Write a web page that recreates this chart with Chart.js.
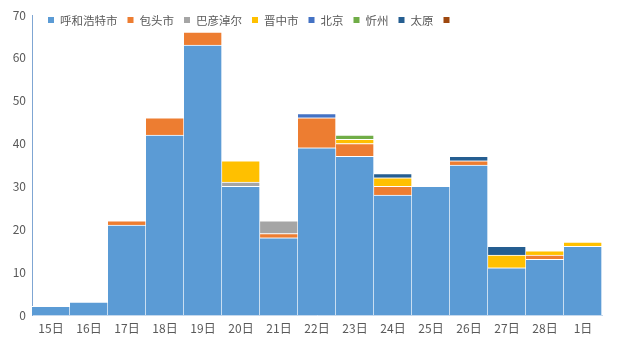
<!DOCTYPE html>
<html><head><meta charset="utf-8">
<script src="https://cdn.jsdelivr.net/npm/chart.js@4/dist/chart.umd.min.js"></script>
<style>html,body{margin:0;padding:0;background:#fff}#w{width:617px;height:357px}</style>
</head><body><div id="w"><canvas id="c"></canvas></div>
<script>
const categories = ['15日','16日','17日','18日','19日','20日','21日','22日','23日','24日','25日','26日','27日','28日','1日'];
const huhehaote = [2,3,21,42,63,30,18,39,37,28,30,35,11,13,16];
const baotou    = [null,null,1,4,3,null,1,7,3,2,null,1,null,1,null];
const bayannaoer= [null,null,null,null,null,1,3,null,null,null,null,null,null,null,null];
const jinzhong  = [null,null,null,null,null,5,null,null,1,2,null,null,3,1,1];
const beijing   = [null,null,null,null,null,null,null,1,null,null,null,null,null,null,null];
const xinzhou   = [null,null,null,null,null,null,null,null,1,null,null,null,null,null,null];
const taiyuan   = [null,null,null,null,null,null,null,null,null,1,null,1,2,null,null];
const other     = [null,null,null,null,null,null,null,null,null,null,null,null,null,null,null];
const seriesNames = ['呼和浩特市','包头市','巴彦淖尔','晋中市','北京','忻州','太原',''];
const yTicks = [0,10,20,30,40,50,60,70];

const colors = ['#5B9BD5','#ED7D31','#A5A5A5','#FFC000','#4472C4','#70AD47','#255E91','#9E480E'];
const series = [huhehaote,baotou,bayannaoer,jinzhong,beijing,xinzhou,taiyuan,other];
const fontFamily = "'Noto Sans CJK SC', sans-serif";
const font = {family:fontFamily, size:12};

const inlineLegend = {
  id:'inlineLegend',
  afterDraw(chart){
    const ctx = chart.ctx;
    ctx.save();
    ctx.font = '11.5px ' + fontFamily;
    ctx.textBaseline = 'middle';
    let x = 48; const yc = 20; const box = 6;
    chart.data.datasets.forEach(ds=>{
      ctx.fillStyle = ds.backgroundColor;
      ctx.fillRect(x, yc-box/2, box, box);
      x += box + 6;
      ctx.fillStyle = '#595959';
      ctx.fillText(ds.label, x, yc+1);
      x += ctx.measureText(ds.label).width + 10;
    });
    ctx.restore();
  }
};

new Chart(document.getElementById('c'), {
  type:'bar',
  data:{labels:categories, datasets: series.map((d,i)=>({
    label: seriesNames[i], data:d, backgroundColor:colors[i],
    borderColor:'#ffffff', borderWidth:{top:1,right:1,left:0,bottom:0}, borderSkipped:false,
    categoryPercentage:1, barPercentage:1
  }))},
  plugins:[inlineLegend],
  options:{
    responsive:true, maintainAspectRatio:false, animation:false,
    layout:{padding:{top:15,right:15,left:0,bottom:0}},
    plugins:{
      tooltip:{enabled:false},
      legend:{display:false}
    },
    scales:{
      x:{stacked:true, grid:{display:false, drawTicks:false},
        border:{color:'#C5D9EE', width:1},
        ticks:{color:'#595959', font:font, padding:6, maxRotation:0},
        afterFit:(s)=>{s.height=42;}},
      y:{stacked:true, min:0, max:70,
        afterBuildTicks:(s)=>{s.ticks = yTicks.map(v=>({value:v}));},
        grid:{display:false, drawTicks:true, tickLength:4, tickColor:'#7FA6D3'},
        border:{color:'#7FA6D3', width:1},
        ticks:{color:'#595959', font:font, padding:2},
        afterFit:(s)=>{s.width=32;}}
    }
  }
});
</script></body></html>
